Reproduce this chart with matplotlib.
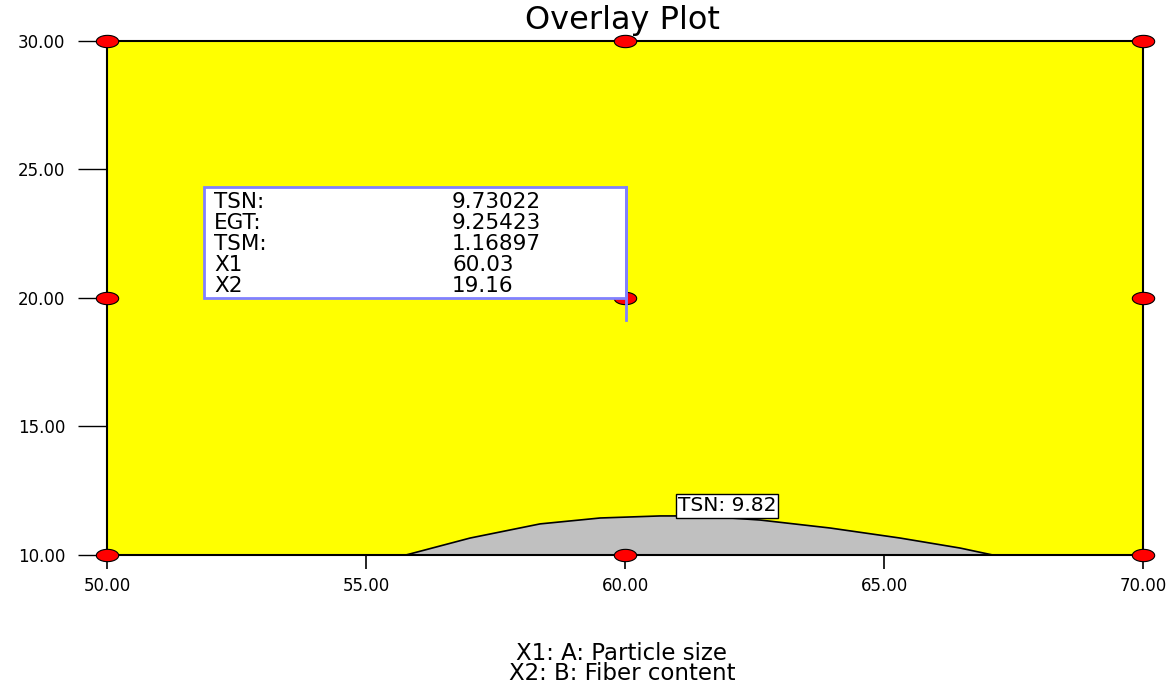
import matplotlib
matplotlib.use("Agg")
import matplotlib.pyplot as plt
from matplotlib.path import Path
import numpy as np

# Data
x_range = [50.0, 70.0]
y_range = [10.0, 30.0]
x_ticks = [50, 55, 60, 65, 70]
y_ticks = [10, 15, 20, 25, 30]
# Grey region boundary (TSN contour)
boundary_x = [55.77, 57.01, 58.36, 59.52, 60.68, 61.45, 62.61, 63.96, 65.31, 66.47, 67.10]
boundary_y = [10.00, 10.66, 11.21, 11.44, 11.52, 11.52, 11.36, 11.05, 10.66, 10.27, 10.00]
# Design points
design_x = [50, 60, 70, 50, 60, 70, 50, 60, 70]
design_y = [30, 30, 30, 20, 20, 20, 10, 10, 10]
# Flag values
flag_labels = ["TSN:", "EGT:", "TSM:", "X1", "X2"]
flag_values = ["9.73022", "9.25423", "1.16897", "60.03", "19.16"]
contour_label = "TSN: 9.82"

plt.rcParams['font.family'] = ['DejaVu Sans']

W, H = 1173, 685
L, R, T, B = 107, 1143, 41, 555

fig = plt.figure(figsize=(W/100, H/100), dpi=100)
ax = fig.add_axes([L/W, 1-B/H, (R-L)/W, (B-T)/H])
ax.set_xlim(*x_range)
ax.set_ylim(*y_range)

def px2data(px, py):
    return (x_range[0] + (px-L)/(R-L)*(x_range[1]-x_range[0]),
            y_range[0] + (B-py)/(B-T)*(y_range[1]-y_range[0]))

ax.set_facecolor('#ffff00')
ax.fill_between(boundary_x, y_range[0], boundary_y, color='#c0c0c0', zorder=2)
ax.plot(boundary_x, boundary_y, color='black', lw=1.2, zorder=3)

# ellipse marker
t = np.linspace(0, 2*np.pi, 40)
verts = np.column_stack([np.cos(t), 0.55*np.sin(t)])
ell = Path(verts, closed=True)
ax.scatter(design_x, design_y, marker=ell, s=260, facecolor='#ff0000',
           edgecolor='black', linewidth=0.8, zorder=6, clip_on=False)

# contour label
cx, cy = px2data(727, 506)
ax.text(cx, cy, contour_label, ha='center', va='center',
        fontsize=14.5, zorder=7,
        bbox=dict(boxstyle='square,pad=0.1', facecolor='white', edgecolor='black', lw=1))

# flag box
x0, y0 = px2data(204, 298)
x1, y1 = px2data(626, 187)
_, yl = px2data(626, 320)
ax.add_patch(plt.Rectangle((x0, y0), x1 - x0, y1 - y0, facecolor='white',
                           edgecolor='#8080ff', lw=2, zorder=8))
ax.plot([x1, x1], [y1, yl], color='#8080ff', lw=2, zorder=9)
row_py = [202, 223, 244, 265, 286]
for lab, val, py in zip(flag_labels, flag_values, row_py):
    lx, ly = px2data(214, py)
    vx, _ = px2data(452, py)
    ax.text(lx, ly, lab, ha='left', va='center', fontsize=15.5, zorder=10)
    ax.text(vx, ly, val, ha='left', va='center', fontsize=15.5, zorder=10)

ax.set_xticks(x_ticks)
ax.set_yticks(y_ticks)
ax.set_xticklabels([f"{v:.2f}" for v in x_ticks])
ax.set_yticklabels([f"{v:.2f}" for v in y_ticks])
ax.tick_params(axis='x', direction='out', length=10, width=1.2, labelsize=12, pad=6)
ax.tick_params(axis='y', direction='out', length=21, width=1.0, labelsize=12, pad=9)
for s in ax.spines.values():
    s.set_linewidth(1.5)
    s.set_zorder(5)

fig.text(622/W, 1-21/H, "Overlay Plot", ha='center', va='center', fontsize=23)
fig.text(622/W, 1-653/H, "X1: A: Particle size", ha='center', va='center', fontsize=16.5)
fig.text(622/W, 1-674/H, "X2: B: Fiber content", ha='center', va='center', fontsize=16.5)

fig.savefig("out.png", dpi=100)
